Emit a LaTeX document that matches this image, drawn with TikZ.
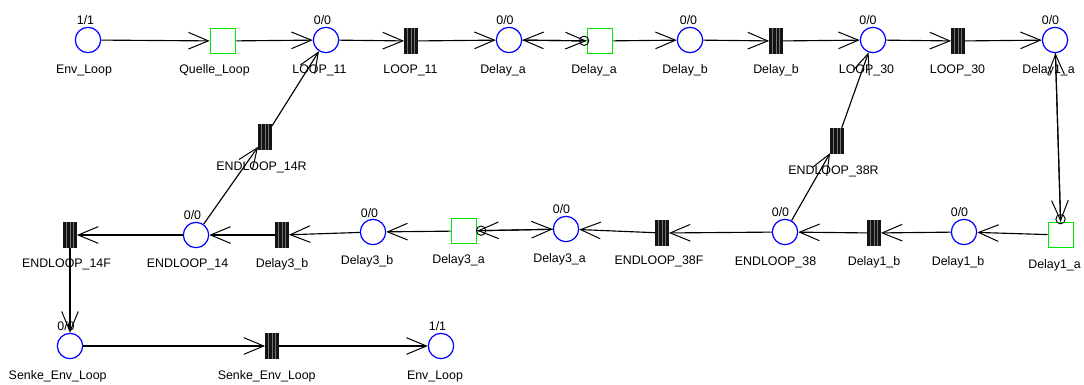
\documentclass[tikz,border=0pt]{standalone}
\usepackage{fontspec}
\setmainfont{Liberation Sans}
\usetikzlibrary{arrows.meta}
\definecolor{placeblue}{RGB}{0,0,255}
\definecolor{immgreen}{RGB}{0,230,0}
\tikzset{
  place/.style={circle, draw=placeblue, line width=0.9pt, fill=white, minimum size=19pt, inner sep=0pt},
  imm/.style={rectangle, draw=immgreen, line width=0.95pt, fill=white, minimum size=19pt, inner sep=0pt},
  trans/.style={rectangle, fill=black!92, minimum width=10pt, minimum height=19.5pt, inner sep=0pt,
    path picture={
      \foreach \d in {-2.5pt,0pt,2.5pt}
        \draw[black!55, line width=0.45pt]
          ([xshift=\d]path picture bounding box.north) -- ([xshift=\d]path picture bounding box.south);
    }},
  arc/.style={draw, line width=0.85pt, -{Straight Barb[length=15pt, width=12.5pt, line width=0.75pt]}},
  tcirc/.style={circle, draw, line width=0.7pt, minimum size=7pt, inner sep=0pt},
  lbl/.style={anchor=base, inner sep=0pt, font=\fontsize{9.3}{11}\selectfont}
}
\begin{document}
\begin{tikzpicture}[x=0.75pt, y=-0.75pt]
\fill[white] (0,0) rectangle (1084,385);
\useasboundingbox (0,0) rectangle (1084,385);

% places
\node[place] (pEnv)   at (88,40)   {};
\node[place] (pL11)   at (326,40)  {};
\node[place] (pDa)    at (509,40)  {};
\node[place] (pDb)    at (690,40)  {};
\node[place] (pL30)   at (873,40)  {};
\node[place] (pD1a)   at (1055,40) {};
\node[place] (pE14)   at (196,235) {};
\node[place] (pD3b)   at (373,232) {};
\node[place] (pD3a)   at (566,229) {};
\node[place] (pE38)   at (785,232) {};
\node[place] (pD1b)   at (964,232) {};
\node[place] (pSenke) at (70,346)  {};
\node[place] (pEnv2)  at (441,346) {};

% timed transitions
\node[trans] (tL11)   at (411,41)  {};
\node[trans] (tDb)    at (776,41)  {};
\node[trans] (tL30)   at (958,41)  {};
\node[trans] (tE14R)  at (265,137) {};
\node[trans] (tE38R)  at (837,141) {};
\node[trans] (tE14F)  at (70,235)  {};
\node[trans] (tD3b)   at (282,235) {};
\node[trans] (tE38F)  at (662,233) {};
\node[trans] (tD1b)   at (874,233) {};
\node[trans] (tSenke) at (272,346) {};

% immediate transitions
\node[imm] (sQ)   at (223,41)  {};
\node[imm] (sDa)  at (600,41)  {};
\node[imm] (sD3a) at (464,231) {};
\node[imm] (sD1a) at (1061,235) {};

% arcs, top row
\draw[arc] (pEnv) -- (sQ);
\draw[arc] (sQ) -- (pL11);
\draw[arc] (pL11) -- (tL11);
\draw[arc] (tL11) -- (pDa);
\draw[arc] (pDa) -- (sDa) node[tcirc, pos=0.96] (cDa) {};
\draw[arc] (sDa) -- (pDa);
\draw[arc] (sDa) -- (pDb);
\draw[arc] (pDb) -- (tDb);
\draw[arc] (tDb) -- (pL30);
\draw[arc] (pL30) -- (tL30);
\draw[arc] (tL30) -- (pD1a);
\draw[arc] (pD1a) -- (sD1a) node[tcirc, pos=0.985] (cD1a) {};
\draw[arc] (sD1a) -- (pD1a);

% arcs, middle row
\draw[arc] (sD1a) -- (pD1b);
\draw[arc] (pD1b) -- (tD1b);
\draw[arc] (tD1b) -- (pE38);
\draw[arc] (pE38) -- (tE38R);
\draw[arc] (tE38R) -- (pL30);
\draw[arc] (pE38) -- (tE38F);
\draw[arc] (tE38F) -- (pD3a);
\draw[arc] (pD3a) -- (sD3a) node[tcirc, pos=0.95] (cD3a) {};
\draw[arc] (sD3a) -- (pD3a);
\draw[arc] (sD3a) -- (pD3b);
\draw[arc] (pD3b) -- (tD3b);
\draw[arc] (tD3b) -- (pE14);
\draw[arc] (pE14) -- (tE14R);
\draw[arc] (tE14R) -- (pL11);
\draw[arc] (pE14) -- (tE14F);

% arcs, bottom row
\draw[arc] (tE14F) -- (pSenke);
\draw[arc] (pSenke) -- (tSenke);
\draw[arc] (tSenke) -- (pEnv2);

% markings and names, top row
\node[lbl] (mEnv)  at (85.5,24.5)  {1/1};
\node[lbl] (nEnv)  at (84,73.5)    {Env\_Loop};
\node[lbl] (nQ)    at (214.5,73.5) {Quelle\_Loop};
\node[lbl] (mL11)  at (322.5,24.5) {0/0};
\node[lbl] (nL11)  at (319.5,73.5) {LOOP\_11};
\node[lbl] (ntL11) at (410.5,73.5) {LOOP\_11};
\node[lbl] (mDa)   at (505,24.5)   {0/0};
\node[lbl] (nDa)   at (503,73.5)   {Delay\_a};
\node[lbl] (nsDa)  at (594,73.5)   {Delay\_a};
\node[lbl] (mDb)   at (688.5,24.5) {0/0};
\node[lbl] (nDb)   at (685,73.5)   {Delay\_b};
\node[lbl] (ntDb)  at (776,73.5)   {Delay\_b};
\node[lbl] (mL30)  at (868,24.5)   {0/0};
\node[lbl] (nL30)  at (866.5,73.5) {LOOP\_30};
\node[lbl] (ntL30) at (957.5,73.5) {LOOP\_30};
\node[lbl] (mD1a)  at (1050.5,24.5) {0/0};
\node[lbl] (nD1a)  at (1048.5,73.5) {Delay1\_a};

% names of the loop-back transitions
\node[lbl] (ntE14R) at (261.5,170) {ENDLOOP\_14R};
\node[lbl] (ntE38R) at (833.5,174) {ENDLOOP\_38R};

% markings and names, middle row
\node[lbl] (ntE14F) at (66.5,267)   {ENDLOOP\_14F};
\node[lbl] (mE14)   at (192.5,219)  {0/0};
\node[lbl] (nE14)   at (187.5,267)  {ENDLOOP\_14};
\node[lbl] (ntD3b)  at (282,267)    {Delay3\_b};
\node[lbl] (mD3b)   at (369.5,217)  {0/0};
\node[lbl] (nD3b)   at (367,264.5)  {Delay3\_b};
\node[lbl] (nsD3a)  at (458.5,263.5) {Delay3\_a};
\node[lbl] (mD3a)   at (561.5,213.5) {0/0};
\node[lbl] (nD3a)   at (559.5,262.5) {Delay3\_a};
\node[lbl] (ntE38F) at (659,264.5)  {ENDLOOP\_38F};
\node[lbl] (mE38)   at (780.5,216.5) {0/0};
\node[lbl] (nE38)   at (775.5,265.5) {ENDLOOP\_38};
\node[lbl] (ntD1b)  at (874,265.5)  {Delay1\_b};
\node[lbl] (mD1b)   at (959.5,216.5) {0/0};
\node[lbl] (nD1b)   at (958,265.5)  {Delay1\_b};
\node[lbl] (nsD1a)  at (1054.5,268.5) {Delay1\_a};

% markings and names, bottom row
\node[lbl] (mSenke)  at (66,330)     {0/0};
\node[lbl] (nSenke)  at (57.7,379.5) {Senke\_Env\_Loop};
\node[lbl] (ntSenke) at (266.7,379.5) {Senke\_Env\_Loop};
\node[lbl] (mEnv2)   at (437.5,330.5) {1/1};
\node[lbl] (nEnv2)   at (435,379.5)  {Env\_Loop};
\end{tikzpicture}
\end{document}
